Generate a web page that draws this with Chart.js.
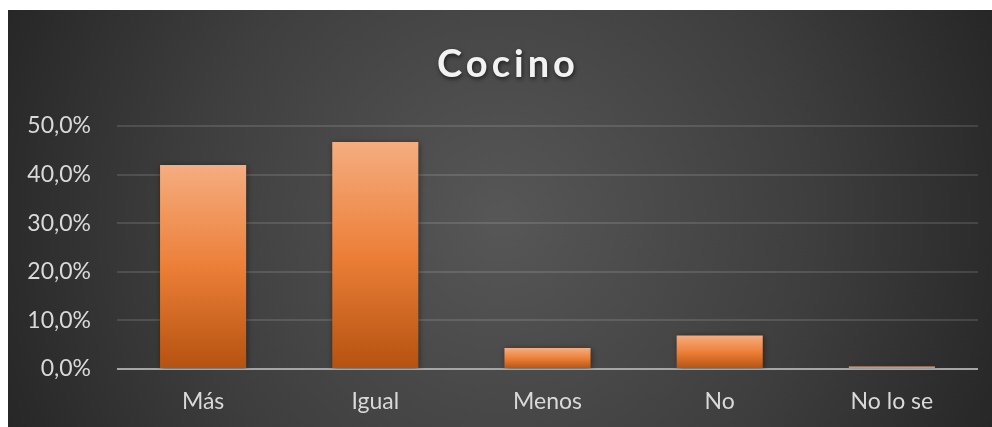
<!DOCTYPE html>
<html lang="es">
<head>
<meta charset="UTF-8">
<title>Cocino</title>
<style>
  html, body { margin: 0; padding: 0; background: #fff; }
  #wrap { width: 992px; height: 427px; }
</style>
</head>
<body>
<div id="wrap"><canvas id="myChart" width="992" height="427" role="img" aria-label="Cocino"></canvas></div>
<script src="https://cdn.jsdelivr.net/npm/chart.js@4/dist/chart.umd.min.js"></script>
<script>
var chartTitle = 'Cocino';
var categories = ['Más', 'Igual', 'Menos', 'No', 'No lo se'];
var percentages = [42.0, 46.7, 4.3, 6.9, 0.5];
var yTicks = [0, 10, 20, 30, 40, 50];

var fontFamily = 'Lato, "Open Sans", sans-serif';

// dark panel with a soft radial light, white strip top/left like the source
var backgroundPlugin = {
    id: 'panelBackground',
    beforeDraw: function (chart) {
        var c = chart.ctx;
        c.save();
        c.fillStyle = '#ffffff';
        c.fillRect(0, 0, chart.width, chart.height);
        var g = c.createRadialGradient(500, 220, 10, 500, 220, 560);
        g.addColorStop(0, '#565656');
        g.addColorStop(0.55, '#3e3e3e');
        g.addColorStop(1, '#242424');
        c.fillStyle = g;
        c.fillRect(8, 10, chart.width - 8, chart.height - 10);
        c.restore();
    }
};

var titlePlugin = {
    id: 'spacedTitle',
    afterDraw: function (chart) {
        var c = chart.ctx;
        c.save();
        c.font = 'bold 38px ' + fontFamily;
        c.letterSpacing = '4px';
        c.textAlign = 'center';
        c.textBaseline = 'alphabetic';
        c.shadowColor = 'rgba(0,0,0,0.6)';
        c.shadowBlur = 4;
        c.shadowOffsetX = 1;
        c.shadowOffsetY = 2;
        c.fillStyle = '#f2f2f2';
        c.fillText(chart.options.plugins.title.text, 508, 77);
        c.restore();
    }
};

var barShadowPlugin = {
    id: 'barShadow',
    beforeDatasetsDraw: function (chart) {
        var c = chart.ctx;
        c.save();
        c.shadowColor = 'rgba(0,0,0,0.45)';
        c.shadowBlur = 6;
        c.shadowOffsetX = 1;
        c.shadowOffsetY = 1;
    },
    afterDatasetsDraw: function (chart) {
        chart.ctx.restore();
    }
};

function barFill(context) {
    var chart = context.chart;
    if (!chart.chartArea || context.type !== 'data') return '#ed7d31';
    var y = chart.scales.y;
    var top = y.getPixelForValue(context.raw);
    var bottom = y.getPixelForValue(0);
    if (bottom - top < 2) return '#f2a572';
    var g = chart.ctx.createLinearGradient(0, top, 0, bottom);
    g.addColorStop(0, '#f5ad80');
    g.addColorStop(0.5, '#ec7f38');
    g.addColorStop(1, '#b4520f');
    return g;
}

new Chart(document.getElementById('myChart'), {
    type: 'bar',
    data: {
        labels: categories,
        datasets: [{
            data: percentages,
            backgroundColor: barFill,
            borderWidth: 0,
            categoryPercentage: 1,
            barPercentage: 0.5
        }]
    },
    options: {
        responsive: false,
        devicePixelRatio: 1,
        animation: false,
        layout: { padding: { top: 126, left: 8, right: 14, bottom: 0 } },
        plugins: {
            legend: { display: false },
            tooltip: { enabled: false },
            title: { display: false, text: chartTitle }
        },
        scales: {
            x: {
                grid: { display: false, drawTicks: false },
                border: { display: false },
                ticks: {
                    color: '#d9d9d9',
                    padding: 19,
                    font: { family: fontFamily, size: 23 }
                },
                afterFit: function (scale) { scale.height = 58; }
            },
            y: {
                min: yTicks[0],
                max: yTicks[yTicks.length - 1],
                border: { display: false },
                grid: {
                    drawTicks: false,
                    color: function (c) {
                        return c.tick && c.tick.value === 0 ? '#a6a6a6' : 'rgba(255,255,255,0.12)';
                    },
                    lineWidth: 2
                },
                ticks: {
                    stepSize: yTicks[1] - yTicks[0],
                    color: '#d9d9d9',
                    padding: 26,
                    font: { family: fontFamily, size: 23 },
                    callback: function (v) { return v.toFixed(1).replace('.', ',') + '%'; }
                },
                afterFit: function (scale) { scale.width = 109; }
            }
        }
    },
    plugins: [backgroundPlugin, titlePlugin, barShadowPlugin]
});
</script>
</body>
</html>
